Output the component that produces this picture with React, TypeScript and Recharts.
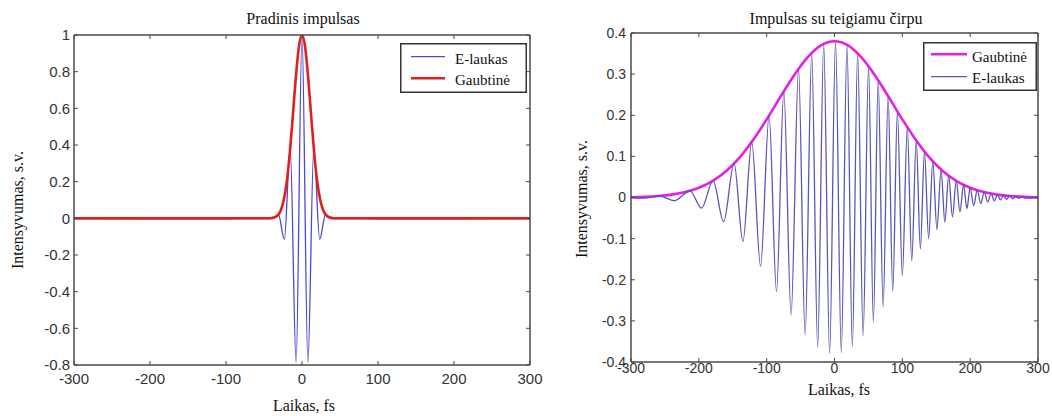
import React from 'react';
import { LineChart, Line, XAxis, YAxis, Legend } from 'recharts';

// axis ticks
const timeTicks = [-300, -200, -100, 0, 100, 200, 300];
const pulseTicks = [-0.8, -0.6, -0.4, -0.2, 0, 0.2, 0.4, 0.6, 0.8, 1];
const chirpTicks = [-0.4, -0.3, -0.2, -0.1, 0, 0.1, 0.2, 0.3, 0.4];

// left: initial pulse (extrema of the field)
const pulseTime = [-300, -38.75, -31, -23.25, -15.5, -7.75, 0, 7.75, 15.5, 23.25, 31, 38.75, 300];
const pulseField = [0, -0.002, 0.021, -0.115, 0.382, -0.786, 1, -0.786, 0.382, -0.115, 0.021, -0.002, 0];

const pulseEnvTime = [-300, -100, -44, -40, -36, -32, -28, -24, -20, -16, -12, -8, -4, 0, 4, 8, 12, 16, 20, 24, 28, 32, 36, 40, 44, 100, 300];
const pulseEnv = [0, 0, 0.0004, 0.0016, 0.0056, 0.0165, 0.0433, 0.0996, 0.2015, 0.359, 0.562, 0.774, 0.938, 1, 0.938, 0.774, 0.562, 0.359, 0.2015, 0.0996, 0.0433, 0.0165, 0.0056, 0.0016, 0.0004, 0, 0];

// right: chirped pulse (extrema of the field)
const chirpTime = [
  -300, -280, -258, -236, -213, -196, -179, -163.5, -148, -135, -122, -109, -96.4, -85.5, -74.7, -64, -53, -43.3,
  -33.6, -24.8, -15.9, -7.2, 1.5, 10, 18.4, 26.3, 34.1, 42.2, 50.2, 57.3, 64.4, 71.7, 79, 85.9, 92.7, 100,
  107.3, 113.9, 120.5, 126.6, 132.6, 138.8, 144.9, 151, 157.1, 162.7, 168.3, 173.9, 179.5, 184.9, 190.3, 195.2,
  200, 205.2, 210.4, 215.6, 220.7, 225.8, 230.9, 235.6, 240.2, 244.6, 249, 253.7, 258.3, 262.7, 267.1, 271.8,
  276.4, 281, 300,
];
const chirpField = [
  0, -0.0016, 0.0037, -0.0079, 0.0163, -0.026, 0.041, -0.059, 0.083, -0.107, 0.135, -0.167, 0.199, -0.229, 0.258, -0.286, 0.313, -0.334,
  0.351, -0.364, 0.373, -0.379, 0.38, -0.377, 0.371, -0.362, 0.351, -0.336, 0.319, -0.303, 0.285, -0.266, 0.246, -0.228, 0.209, -0.19,
  0.171, -0.154, 0.139, -0.125, 0.112, -0.1, 0.088, -0.078, 0.068, -0.06, 0.053, -0.047, 0.041, -0.035, 0.031, -0.027,
  0.024, -0.02, 0.018, -0.015, 0.013, -0.011, 0.0094, -0.008, 0.0069, -0.006, 0.0051, -0.0044, 0.0037, -0.0032, 0.0027, -0.0022,
  0.0019, -0.0016, 0,
];

const chirpEnvTime = [-300, -280, -260, -240, -220, -200, -180, -160, -140, -120, -100, -80, -60, -40, -20, 0, 20, 40, 60, 80, 100, 120, 140, 160, 180, 200, 220, 240, 260, 280, 300];
const chirpEnv = [0.0007, 0.0016, 0.0035, 0.007, 0.0132, 0.0236, 0.04, 0.064, 0.097, 0.14, 0.19, 0.244, 0.296, 0.34, 0.37, 0.38, 0.37, 0.34, 0.296, 0.244, 0.19, 0.14, 0.097, 0.064, 0.04, 0.0236, 0.0132, 0.007, 0.0035, 0.0016, 0.0007];

const leftLegendOrder = ['E-laukas', 'Gaubtinė'];
const rightLegendOrder = ['Gaubtinė', 'E-laukas'];

const zip = (t: number[], v: number[]) => t.map((x, i) => ({ t: x, v: v[i] }));

const SANS = '"Liberation Sans", Arial, sans-serif';
const SERIF = '"Liberation Serif", "Times New Roman", serif';
const AXIS = '#4a4a4a';
const TICK_TEXT = '#333';

const LEFT_BLUE = '#4b48d2';
const RED = '#e0201c';
const MAGENTA = '#e81ee8';
const RIGHT_BLUE = '#5a56b6';

const widths: Record<string, number> = { 'E-laukas': 1.3, 'Gaubtinė': 2.6 };

const legendBox = (order: string[], w: number, h: number, lx1: number, lx2: number, ly: number[], tx: number, ty: number[]) =>
  (props: any) => {
    const items = [...(props.payload || [])].sort((a: any, b: any) => order.indexOf(a.value) - order.indexOf(b.value));
    return (
      <svg width={w} height={h} style={{ display: 'block' }}>
        <rect x={0.75} y={0.75} width={w - 1.5} height={h - 1.5} fill="#fff" stroke="#333" strokeWidth={1.5} />
        {items.map((it: any, i: number) => (
          <g key={it.value}>
            <line x1={lx1} x2={lx2} y1={ly[i]} y2={ly[i]} stroke={it.color} strokeWidth={widths[it.value] || 1.3} />
            <text x={tx} y={ty[i]} fontFamily={SERIF} fontSize={15} fill="#111">{it.value}</text>
          </g>
        ))}
      </svg>
    );
  };

const noTick = () => <g />;

export default function App() {
  return (
    <div style={{ position: 'absolute', left: 0, top: 0, width: 1052, height: 416, background: '#fff', overflow: 'hidden' }}>
      <div style={{ position: 'absolute', left: 0, top: 0 }}>
        <LineChart width={545} height={416} margin={{ top: 34, right: 14, bottom: 0, left: 0 }}>
          <XAxis xAxisId="b" type="number" dataKey="t" domain={[-300, 300]} ticks={timeTicks} interval={0} allowDataOverflow
            height={51} tickSize={-4} tickMargin={12} stroke={AXIS} axisLine={{ stroke: AXIS, strokeWidth: 1.5 }}
            tick={{ fill: TICK_TEXT, fontSize: 15, fontFamily: SANS }} />
          <XAxis xAxisId="top" orientation="top" type="number" dataKey="t" domain={[-300, 300]} ticks={timeTicks} interval={0}
            allowDataOverflow height={1} tickSize={-4} tick={noTick} stroke={AXIS} axisLine={{ stroke: AXIS, strokeWidth: 1.5 }} />
          <YAxis yAxisId="l" type="number" domain={[-0.8, 1]} ticks={pulseTicks} interval={0} allowDataOverflow width={74}
            tickSize={-4} tickMargin={8} stroke={AXIS} axisLine={{ stroke: AXIS, strokeWidth: 1.5 }}
            tick={{ fill: TICK_TEXT, fontSize: 15, fontFamily: SANS }} />
          <YAxis yAxisId="r" orientation="right" type="number" domain={[-0.8, 1]} ticks={pulseTicks} interval={0} allowDataOverflow
            width={1} tickSize={-4} tick={noTick} stroke={AXIS} axisLine={{ stroke: AXIS, strokeWidth: 1.5 }} />
          <Line xAxisId="b" yAxisId="l" data={zip(pulseTime, pulseField)} dataKey="v" name="E-laukas" type="monotone"
            stroke={LEFT_BLUE} strokeWidth={1.3} dot={false} isAnimationActive={false} />
          <Line xAxisId="b" yAxisId="l" data={zip(pulseEnvTime, pulseEnv)} dataKey="v" name="Gaubtinė" type="monotone"
            stroke={RED} strokeWidth={2.6} dot={false} isAnimationActive={false} />
          <Legend layout="vertical" align="center" verticalAlign="middle"
            wrapperStyle={{ left: 400, top: 43, width: 127, height: 50 }}
            content={legendBox(leftLegendOrder, 127, 50, 11, 45, [13.7, 35.3], 55, [21.3, 42.3])} />
        </LineChart>
      </div>

      <div style={{ position: 'absolute', left: 526, top: 0 }}>
        <LineChart width={526} height={416} margin={{ top: 32, right: 13, bottom: 0, left: 0 }}>
          <XAxis xAxisId="b" type="number" dataKey="t" domain={[-300, 300]} ticks={timeTicks} interval={0} allowDataOverflow
            height={54} tickSize={-4} tickMargin={5} stroke={AXIS} axisLine={{ stroke: AXIS, strokeWidth: 1.5 }}
            tick={{ fill: TICK_TEXT, fontSize: 14, fontFamily: SANS }} />
          <XAxis xAxisId="top" orientation="top" type="number" dataKey="t" domain={[-300, 300]} ticks={timeTicks} interval={0}
            allowDataOverflow height={1} tickSize={-4} tick={noTick} stroke={AXIS} axisLine={{ stroke: AXIS, strokeWidth: 1.5 }} />
          <YAxis yAxisId="l" type="number" domain={[-0.4, 0.4]} ticks={chirpTicks} interval={0} allowDataOverflow width={105}
            tickSize={-4} tickMargin={9} stroke={AXIS} axisLine={{ stroke: AXIS, strokeWidth: 1.5 }}
            tick={{ fill: TICK_TEXT, fontSize: 14, fontFamily: SANS }} />
          <YAxis yAxisId="r" orientation="right" type="number" domain={[-0.4, 0.4]} ticks={chirpTicks} interval={0} allowDataOverflow
            width={1} tickSize={-4} tick={noTick} stroke={AXIS} axisLine={{ stroke: AXIS, strokeWidth: 1.5 }} />
          <Line xAxisId="b" yAxisId="l" data={zip(chirpEnvTime, chirpEnv)} dataKey="v" name="Gaubtinė" type="monotone"
            stroke={MAGENTA} strokeWidth={2.6} dot={false} isAnimationActive={false} />
          <Line xAxisId="b" yAxisId="l" data={zip(chirpTime, chirpField)} dataKey="v" name="E-laukas" type="monotone"
            stroke={RIGHT_BLUE} strokeWidth={1.3} dot={false} isAnimationActive={false} />
          <Legend layout="vertical" align="center" verticalAlign="middle"
            wrapperStyle={{ left: 397, top: 42, width: 114, height: 49 }}
            content={legendBox(rightLegendOrder, 114, 49, 8, 44, [12.3, 34.7], 49, [20, 40.7])} />
        </LineChart>
      </div>

      <svg width={1052} height={416} style={{ position: 'absolute', left: 0, top: 0, pointerEvents: 'none' }}>
        <g fontFamily={SERIF} fontSize={16} fill="#111">
          <text x={303} y={24} textAnchor="middle">Pradinis impulsas</text>
          <text x={836} y={24} textAnchor="middle">Impulsas su teigiamu čirpu</text>
          <text x={304} y={411} textAnchor="middle">Laikas, fs</text>
          <text x={839} y={395} textAnchor="middle">Laikas, fs</text>
          <text transform="translate(23,210) rotate(-90)" textAnchor="middle">Intensyvumas, s.v.</text>
          <text transform="translate(587,199) rotate(-90)" textAnchor="middle">Intensyvumas, s.v.</text>
        </g>
      </svg>
    </div>
  );
}
